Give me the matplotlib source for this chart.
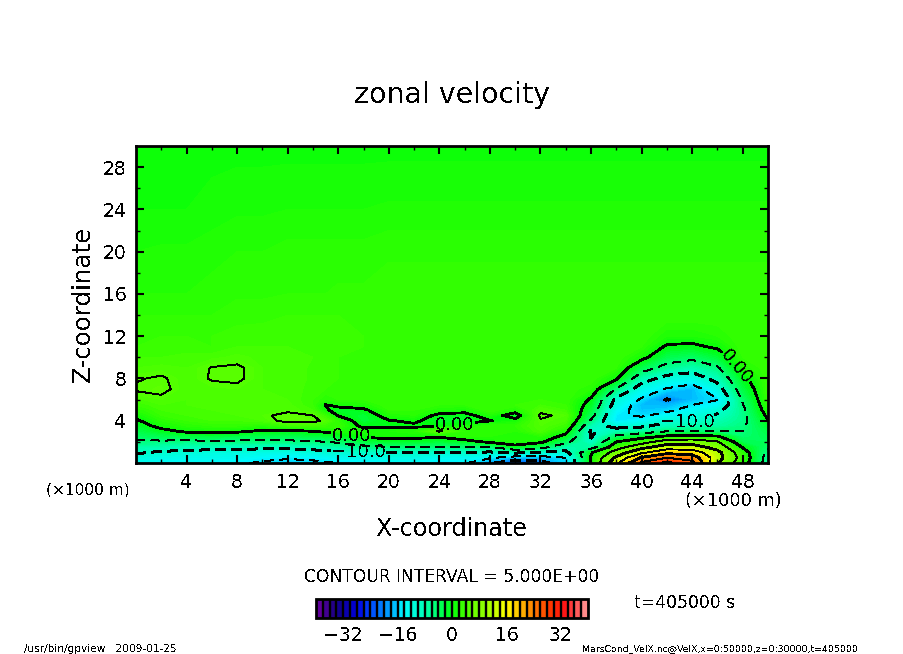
import numpy as np
import matplotlib
matplotlib.use("Agg")
import matplotlib.pyplot as plt
from matplotlib.cm import ScalarMappable
from matplotlib.colors import BoundaryNorm, LinearSegmentedColormap, ListedColormap

# Data (x in 1000 m, z in 1000 m, velocity in m/s); each list is a profile from z=0 upward
z_km = [0, .5, 1, 1.5, 2, 2.5, 3, 3.5, 4, 4.5, 5, 5.5, 6, 7, 8, 9, 10, 11, 12, 14, 16, 20, 24, 30]
u_x00 = [-13, -11.5, -9.5, -7.5, -5.5, -4, -2.8, -1.7, -.4, .8, 2, 3, 3.8, 5.3, 4.8, 4, 3.5, 3, 3, 2.5, 2, 1.5, 1, .8]
u_x02 = [-14, -12, -10.5, -8, -5.6, -3.2, -1, 1, 2, 3, 3.5, 4, 4.5, 5.6, 5.3, 4.2, 3.5, 3.2, 3, 2.5, 2, 1.6, 1, .8]
u_x04 = [-14, -12.5, -11, -8.5, -6, -2.5, .5, 2, 3, 3.5, 4, 4, 4, 4, 4, 4, 3.7, 3.2, 3, 2.5, 2, 1.6, 1, .8]
u_x06 = [-14, -12.5, -11.5, -8.5, -5.7, -2.5, 1, 2.5, 3.5, 4, 4, 4.2, 4.2, 4.3, 5.2, 5.1, 3.8, 3, 3, 2.5, 2.2, 1.8, 1.2, .8]
u_x08 = [-14.5, -13, -11.5, -9, -5.7, -3, .6, 2.5, 3.5, 4, 4.2, 4.2, 4.2, 4.5, 5.4, 5.4, 4.2, 3.5, 3.2, 2.8, 2.4, 2, 1.4, .8]
u_x10 = [-15.5, -14, -12, -9, -5.8, -3, -.5, 1.8, 4, 4.5, 4.2, 4.2, 4.2, 4, 4, 4, 3.8, 3.5, 3.3, 2.8, 2.4, 2, 1.4, .8]
u_x12 = [-16.5, -14.5, -12, -9, -5.8, -3, -.8, 3, 5.8, 5.8, 4.5, 4.2, 4, 3.8, 3.8, 3.8, 3.7, 3.5, 3.4, 3, 2.5, 2.2, 1.5, .8]
u_x14 = [-16, -14, -11.5, -8.5, -5.5, -2.5, 0, 3.5, 5.6, 5, 3.5, 3, 3, 3.3, 3.4, 3.4, 3.5, 3.5, 3.4, 3, 2.5, 2.2, 1.5, .8]
u_x15 = [-15.5, -13.5, -11, -8, -5, -2.2, .5, 3, 4.5, 3, .6, -.1, 2, 3, 3.2, 3.2, 3.3, 3.4, 3.3, 3, 2.5, 2.2, 1.5, .8]
u_x16 = [-15, -13, -10.5, -7.5, -4.5, -1.5, 1.5, 3, 2.5, -.2, -1.5, 1, 2.5, 3, 3, 3, 3, 3.2, 3.2, 3, 2.6, 2.2, 1.5, .8]
u_x18 = [-14.5, -12.5, -10, -6, -2.5, .4, 1.5, -.8, -2, -2, -.6, 1.5, 2.5, 3, 3, 3, 3, 3, 3, 3, 2.6, 2.2, 1.5, .8]
u_x20 = [-14, -12, -10, -5.2, -1.5, 1, 1.5, -.6, -.2, 1.5, 2.5, 3, 3, 3, 3, 3, 3, 3, 3, 3, 2.8, 2.4, 1.6, .8]
u_x22 = [-14, -12, -10, -5.2, -1.5, .8, 2, -.6, .6, 2, 2.5, 3, 3, 3, 3, 3, 3, 3, 3, 3, 2.8, 2.4, 1.6, .8]
u_x24 = [-15, -13, -10.3, -5.2, -2, .3, 5.3, -.2, -1.5, -.8, 1.5, 2.5, 3, 3, 3, 3, 3, 3, 3, 3, 2.8, 2.4, 1.6, .8]
u_x26 = [-14.5, -13, -10, -5, -1.3, 2, 2.5, 1, -1, -1, 1, 2.5, 3, 3, 3, 3, 3, 3, 3, 3, 2.8, 2.4, 1.6, .8]
u_x28 = [-19, -14.5, -10.5, -5.2, .6, 2, 2.5, 2.5, -.1, 1.5, 3, 3, 3, 3, 3, 3, 3, 3, 3, 3, 2.8, 2.4, 1.6, .8]
u_x30 = [-24, -17, -9, -1, 1.5, 2, 2, 2.5, 1, -1.5, 1.5, 3, 3, 3, 3, 3, 3, 3, 3, 3, 2.8, 2.4, 1.6, .8]
u_x32 = [-22, -17, -10.5, -3.5, .7, 2, 4, 4.5, 4.8, 5.4, 4.5, 3.5, 3, 3, 3, 3, 3, 3, 3, 3, 2.8, 2.4, 1.6, .8]
u_x34 = [-16, -15, -11, -8, -4, -1, 1, 3, 4, 4.5, 3.5, 3, 3, 3, 3, 3, 3, 3, 3, 3, 2.8, 2.4, 1.6, .8]
u_x36 = [.3, .5, -.5, -7, -9.5, -10.3, -10.5, -8.5, -5.5, -3.5, -2.2, -1.2, -.4, 2, 3, 3, 3, 3, 3, 3, 2.8, 2.4, 1.6, .8]
u_x38 = [14, 11, 7, 3, 0, -4, -8, -11.3, -14.8, -14.5, -13.5, -12, -11, -5.2, .5, 2.5, 3, 3, 3, 3, 2.8, 2.4, 1.6, .8]
u_x40 = [26, 20.5, 14, 8.5, 3, -1.5, -7, -10.7, -13.5, -15.5, -16.5, -17, -15.5, -12.5, -8, -3, 1, 2.5, 3, 3, 2.8, 2.4, 1.6, .8]
u_x42 = [31, 25, 18.5, 12.5, 7.5, .8, -5, -8.5, -10.8, -13.5, -15.8, -17.5, -20.4, -15.3, -11.5, -6.5, -3, -.4, 1.5, 3, 2.8, 2.4, 1.6, .8]
u_x44 = [26.5, 23, 17.5, 12.5, 7.5, 2, -5, -8, -10.5, -12, -13.5, -15, -17, -17, -12.5, -8, -4, -.7, 1.5, 3, 2.8, 2.4, 1.6, .8]
u_x46 = [10.5, 12, 11.5, 8, 5.5, .5, -5, -7, -8, -9.5, -11, -13.5, -15.2, -12, -8.5, -5.5, -2, .5, 2, 3, 2.8, 2.4, 1.6, .8]
u_x48 = [2, 3, 2, -.3, -3, -4.5, -5, -5.5, -6, -6, -5.8, -5.2, -4.5, -2.5, -.8, 1.5, 2.5, 3, 3, 3, 2.8, 2.4, 1.6, .8]
u_x50 = [-7, -7, -6, -4.5, -3.5, -3, -2.5, -1.5, -.4, .8, 1.8, 2.5, 3, 3, 3, 3, 3, 3, 3, 3, 2.8, 2.4, 1.6, .8]
x_km = [0, 2, 4, 6, 8, 10, 12, 14, 15, 16, 18, 20, 22, 24, 26, 28, 30, 32, 34, 36, 38, 40, 42, 44, 46, 48, 50]
profiles = [u_x00, u_x02, u_x04, u_x06, u_x08, u_x10, u_x12, u_x14, u_x15, u_x16, u_x18, u_x20, u_x22, u_x24,
            u_x26, u_x28, u_x30, u_x32, u_x34, u_x36, u_x38, u_x40, u_x42, u_x44, u_x46, u_x48, u_x50]
fill_levels = np.arange(-40, 40.25, 0.5)
cbar_levels = list(range(-40, 41, 2))
thin_levels = [-15, -5, 5, 15, 25]
thick_levels = [-30, -20, 10, 20, 30]
labelled_levels = [-10, 0]
cbar_ticks = [-32, -16, 0, 16, 32]
x_major = [4, 8, 12, 16, 20, 24, 28, 32, 36, 40, 44, 48]
y_major = [4, 8, 12, 16, 20, 24, 28]

nodes = [(-40, (110, 0, 160)), (-34, (20, 0, 130)), (-28, (0, 0, 220)), (-24, (0, 70, 255)), (-18, (0, 170, 255)),
         (-14, (0, 250, 255)), (-8, (0, 255, 180)), (-3, (0, 255, 80)), (0, (0, 255, 10)), (3, (55, 255, 0)),
         (5, (85, 255, 0)), (10, (150, 255, 0)), (16, (255, 255, 0)), (23, (255, 140, 0)), (30, (255, 40, 0)),
         (33, (255, 20, 20)), (37, (255, 90, 90)), (40, (255, 160, 160))]
cmap = LinearSegmentedColormap.from_list(
    "gv", [((v + 40) / 80, tuple(c / 255 for c in rgb)) for v, rgb in nodes], N=512)

plt.rcParams["font.family"] = "DejaVu Sans"
plt.rcParams["text.antialiased"] = False

fig = plt.figure(figsize=(9.04, 6.54), dpi=100)
W, H = 904, 654
ax = fig.add_axes([136 / W, 1 - 463 / H, (768 - 136) / W, (463 - 146) / H])
U = np.array(profiles).T
cf = ax.contourf(x_km, z_km, U, levels=fill_levels, cmap=cmap, vmin=-40, vmax=40, antialiased=False)
cs_thin = ax.contour(x_km, z_km, U, levels=thin_levels, colors="k", linewidths=0.65, antialiased=False)
cs_thick = ax.contour(x_km, z_km, U, levels=thick_levels, colors="k", linewidths=1.3, antialiased=False)
cs_label = ax.contour(x_km, z_km, U, levels=labelled_levels, colors="k", linewidths=1.3, antialiased=False)
cs_thin.set_linestyles([(0, (9, 7)) if lv < 0 else "solid" for lv in cs_thin.levels])
for cs in (cs_thick, cs_label):
    cs.set_linestyles([(0, (5, 3.5)) if lv < 0 else "solid" for lv in cs.levels])

fmt = {0: "0.00", -10: "\u221210.0"}
labels = ax.clabel(cs_label, fmt=fmt, fontsize=13, colors="k", inline=True, inline_spacing=1,
                   manual=[(17, 2.4), (17.6, 1.0), (25.2, 3.7), (43.6, 3.9), (47.6, 9.2)])
for t in labels:
    x_lab = t.get_position()[0]
    t.set_rotation(-50 if x_lab > 46 else 0)

ax.set_xlim(0, 50)
ax.set_ylim(0, 30)
ax.set_xticks(x_major)
ax.set_yticks(y_major)
ax.set_xticks(range(2, 50, 4), minor=True)
ax.set_yticks(range(2, 30, 4), minor=True)
ax.tick_params(which="major", direction="in", top=True, right=True, length=6, width=1.5, labelsize=13.5, pad=7)
ax.tick_params(which="minor", direction="in", top=True, right=True, length=3, width=1)
for s in ax.spines.values():
    s.set_linewidth(2)

fig.text(452 / W, 1 - 95 / H, "zonal velocity", ha="center", va="center", fontsize=20.5)
fig.text(452 / W, 1 - 529 / H, "X-coordinate", ha="center", va="center", fontsize=17.2)
fig.text(83 / W, 1 - 304 / H, "Z-coordinate", ha="center", va="center", rotation=90, fontsize=17.6)
fig.text(88 / W, 1 - 490 / H, "(\u00d71000 m)", ha="center", va="center", fontsize=11.1)
fig.text(733 / W, 1 - 501 / H, "(\u00d71000 m)", ha="center", va="center", fontsize=12.8)
fig.text(452 / W, 1 - 577 / H, "CONTOUR INTERVAL = 5.000E+00", ha="center", va="center", fontsize=12.3)
fig.text(634 / W, 1 - 603 / H, "t=405000 s", ha="left", va="center", fontsize=12.4)
fig.text(24 / W, 1 - 649 / H, "/usr/bin/gpview   2009-01-25", ha="left", va="center", fontsize=7.6)
fig.text(858 / W, 1 - 649 / H, "MarsCond_VelX.nc@VelX,x=0:50000,z=0:30000,t=405000", ha="right", va="center", fontsize=6.75)

cax = fig.add_axes([316 / W, 1 - 618 / H, (588 - 316) / W, (618 - 599) / H])
mids = [(a + b) / 2 for a, b in zip(cbar_levels[:-1], cbar_levels[1:])]
bar_cmap = ListedColormap([cmap((m + 40) / 80) for m in mids])
sm = ScalarMappable(norm=BoundaryNorm(cbar_levels, bar_cmap.N), cmap=bar_cmap)
cb = fig.colorbar(sm, cax=cax, orientation="horizontal", drawedges=True, ticks=cbar_ticks, spacing="proportional")
cb.dividers.set_linewidth(1.7)
cb.dividers.set_color("k")
cb.outline.set_linewidth(2)
cb.ax.tick_params(length=0, labelsize=13.5, pad=6)
cb.ax.minorticks_off()

fig.savefig("out.png", dpi=100)
